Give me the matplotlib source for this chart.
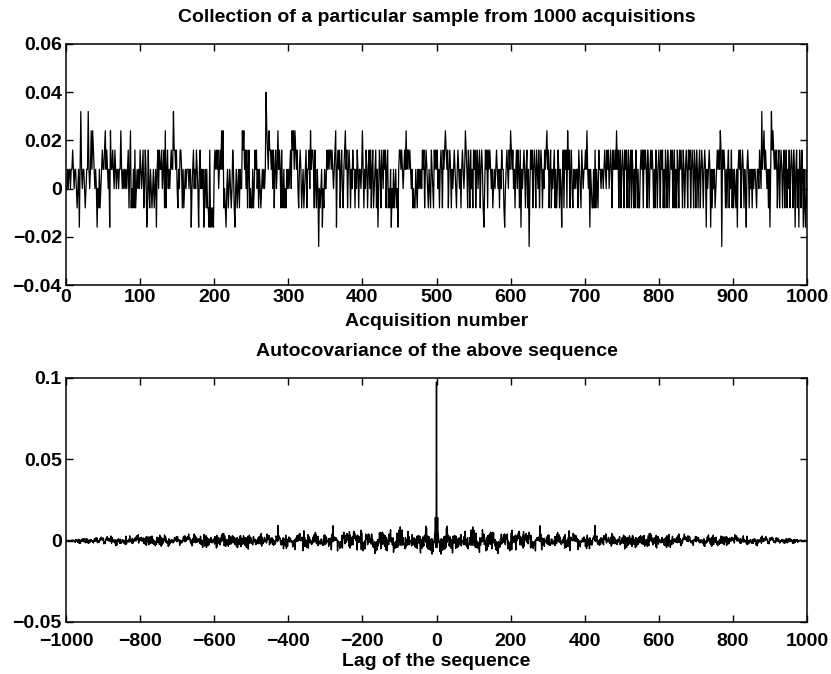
import numpy as np
import matplotlib
matplotlib.use("Agg")
import matplotlib.pyplot as plt
from matplotlib.ticker import FuncFormatter

# Quantised acquisition values, read off the picture as level indices:
# value = (digit - 3) * 0.008   (0 -> -0.024 ... 8 -> 0.040)
LEVEL_STEP = 0.008
LEVEL_ZERO = 3
seq_digits = (
    "3434434454 3443234147 4344323447 4346465434 3132423454"
    "4564543416 4454354344 3446434343 4345246232 4252343435"
    "4345235412 5324323423 4145354453 4526245343 4544755453"
    "2435542423 4344434413 4534354314 5343413424 2215121214"
    "5454534546 4623213423 4323542134 2342433656 4535245232"
    "2423545342 4323434348 6546554535 2453464542 5324232434"
    "3453656465 4532454234 2345244536 4554253243 0323413243"
    "3545455454 3456145452 4532456452 4542435442 4354244346"
    "4243542453 5245234524 1354254354 5245232413 2423423145"
    "5454345464 5545434232 2432434343 5452454324 3254325454"
    "5342454254 5654524542 4345432454 3424543465 4254253425"
    "4524534524 5421354525 4543423434 5434243544 2134543546"
    "5453424535 4251434542 4524035452 4542543524 5424354564"
    "5245243452 4235424314 5254526452 4532434344 2543254344"
    "5464341432 2425243254 4344345435 4534542544 5464524524"
    "5425452452 4525424254 2422454525 4542542454 5424254245"
    "4254524254 2542454524 5242542545 4254245425 4524542542"
    "5424524542 4541434541 4243423454 5465054542 4245243524"
    "2432414545 2454243145 4243424344 3244354374 5645434241"
    "4756545452 4524542452 4524352454 2541452415 4254142142"
)
seq_digits = seq_digits.replace(" ", "")
assert len(seq_digits) == 1000, len(seq_digits)

acquisition = np.arange(1, len(seq_digits) + 1)
values = np.array([(int(d) - LEVEL_ZERO) * LEVEL_STEP for d in seq_digits])

# Autocovariance (unnormalised) of the sequence above
dev = values - values.mean()
autocov = np.correlate(dev, dev, mode="full")
lags = np.arange(-(len(dev) - 1), len(dev))

top_xticks = list(range(0, 1001, 100))
top_yticks = [-0.04, -0.02, 0, 0.02, 0.04, 0.06]
bot_xticks = list(range(-1000, 1001, 200))
bot_yticks = [-0.05, 0, 0.05, 0.1]

plt.rcParams["font.family"] = ["Liberation Sans", "DejaVu Sans"]
plt.rcParams["axes.unicode_minus"] = True

W, H = 831, 674
FS = 14
fig = plt.figure(figsize=(W / 100, H / 100), dpi=100)
ax1 = fig.add_axes([66 / W, 1 - 285 / H, 741 / W, 241 / H])
ax2 = fig.add_axes([66 / W, 1 - 622 / H, 741 / W, 244 / H])

ax1.plot(acquisition, values, color="black", linewidth=0.9)
ax2.plot(lags, autocov, color="black", linewidth=1.0)

fmt = FuncFormatter(lambda v, p: ("%g" % v).replace("-", "\u2212"))

for ax, xt, yt, xl, yl, xpad in [
    (ax1, top_xticks, top_yticks, (0, 1000), (-0.04, 0.06), 3),
    (ax2, bot_xticks, bot_yticks, (-1000, 1000), (-0.05, 0.1), 8),
]:
    ax.set_xlim(*xl)
    ax.set_ylim(*yl)
    ax.set_xticks(xt)
    ax.set_yticks(yt)
    ax.xaxis.set_major_formatter(fmt)
    ax.yaxis.set_major_formatter(fmt)
    ax.tick_params(direction="in", length=5, width=1, top=True, right=True,
                   labelsize=FS, colors="black")
    ax.tick_params(axis="x", pad=xpad)
    ax.tick_params(axis="y", pad=3)
    for lab in ax.get_xticklabels() + ax.get_yticklabels():
        lab.set_fontweight("bold")
    for s in ax.spines.values():
        s.set_linewidth(1.1)
        s.set_color("black")

cx = (66 + 807) / 2 / W
tkw = dict(ha="center", va="center", fontsize=FS, fontweight="bold", color="black")
fig.text(cx, 1 - 17 / H, "Collection of a particular sample from 1000 acquisitions", **tkw)
fig.text(cx, 1 - 321 / H, "Acquisition number", **tkw)
fig.text(cx, 1 - 351 / H, "Autocovariance of the above sequence", **tkw)
fig.text(cx, 1 - 662 / H, "Lag of the sequence", **tkw)

fig.savefig("out.png", dpi=100, facecolor="white")
